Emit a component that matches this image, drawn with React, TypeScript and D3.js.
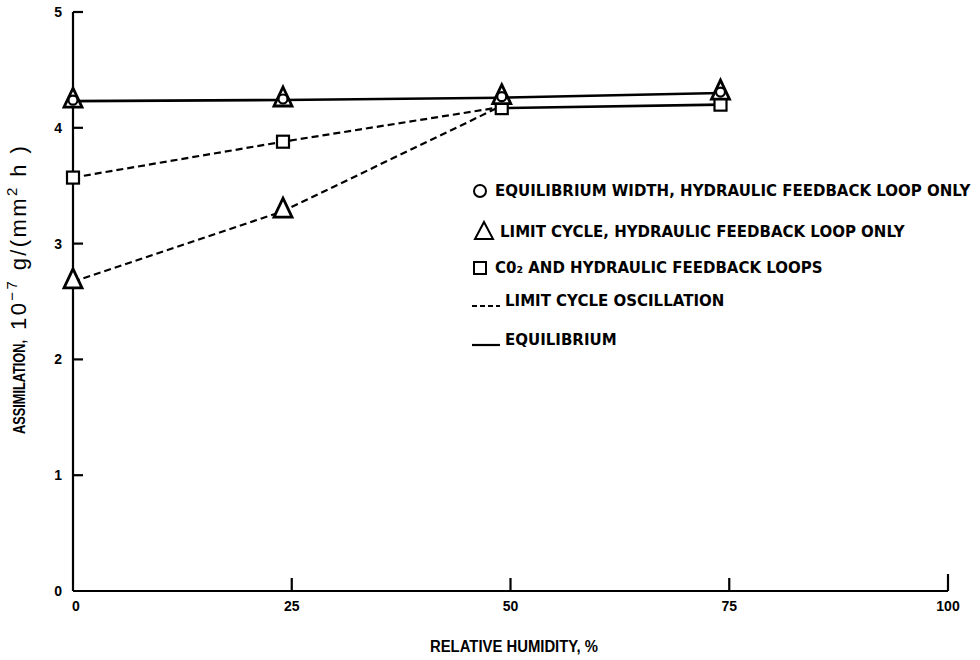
import * as d3 from "d3";

// relative humidity (%) at which the model was run
const humidity = [0, 24, 49, 74];

// equilibrium width, hydraulic loop only (circles, solid)
const eqHydraulic = [4.23, 4.24, 4.26, 4.3];
// limit cycle, hydraulic loop only (triangles) - on the equilibrium line at every humidity
const lcHydraulicTop = [4.23, 4.24, 4.26, 4.3];
// limit cycle oscillation, hydraulic loop only (triangles, dashed)
const lcHydraulicOsc = [2.67, 3.28, 4.19];
// CO2 and hydraulic loops, oscillating (squares, dashed)
const co2Osc = [3.57, 3.88, 4.18];
// CO2 and hydraulic loops, equilibrium (squares, solid)
const co2EqHumidity = [49, 74];
const co2Eq = [4.17, 4.2];

const xTicks = [0, 25, 50, 75, 100];
const yTicks = [0, 1, 2, 3, 4, 5];

const legendItems = [
  { kind: "circle", label: "EQUILIBRIUM WIDTH, HYDRAULIC FEEDBACK LOOP ONLY" },
  { kind: "triangle", label: "LIMIT CYCLE, HYDRAULIC FEEDBACK LOOP ONLY" },
  { kind: "square", label: "C0\u2082 AND HYDRAULIC FEEDBACK LOOPS" },
  { kind: "dashed", label: "LIMIT CYCLE OSCILLATION" },
  { kind: "solid", label: "EQUILIBRIUM" },
];

const W = 980;
const H = 660;
const INK = "#000";
const tickFont = "'Liberation Sans', Arial, sans-serif";
const legendFont = "'DejaVu Sans', 'Liberation Sans', sans-serif";

const triPath = "M0,-13 L9,6 L-9,6 Z";

type Pt = [number, number];

export default function App() {
  const x = d3.scaleLinear().domain([0, 100]).range([73, 948]);
  const y = d3.scaleLinear().domain([0, 5]).range([591, 12]);

  const line = d3
    .line<Pt>()
    .x((d) => x(d[0]))
    .y((d) => y(d[1]));

  const pts = (xs: number[], ys: number[]): Pt[] => ys.map((v, i) => [xs[i], v] as Pt);

  const eqPts = pts(humidity, eqHydraulic);
  const lcTopPts = pts(humidity, lcHydraulicTop);
  const lcOscPts = pts(humidity, lcHydraulicOsc);
  const co2OscPts = pts(humidity, co2Osc);
  const co2EqPts = pts(co2EqHumidity, co2Eq);

  const square = (p: Pt, i: number, key: string) => (
    <rect
      key={key + i}
      x={x(p[0]) - 6}
      y={y(p[1]) - 6}
      width={12}
      height={12}
      fill="#fff"
      stroke={INK}
      strokeWidth={2.2}
    />
  );
  const triangle = (p: Pt, i: number, key: string) => (
    <path
      key={key + i}
      d={triPath}
      transform={`translate(${x(p[0])},${y(p[1])})`}
      fill="#fff"
      stroke={INK}
      strokeWidth={2.8}
      strokeLinejoin="miter"
    />
  );
  const circle = (p: Pt, i: number, key: string) => (
    <circle key={key + i} cx={x(p[0])} cy={y(p[1]) - 1} r={4.5} fill="#fff" stroke={INK} strokeWidth={2.2} />
  );

  const legendX = 480;
  const legendY = [191, 232, 268, 301, 340];

  return (
    <div style={{ position: "absolute", left: 0, top: 0 }}>
      <svg width={W} height={H} style={{ display: "block", background: "#fff" }}>
        {/* axes */}
        <g stroke={INK} strokeWidth={2.2} fill="none">
          <line x1={x(0)} x2={x(100)} y1={y(0)} y2={y(0)} />
          <line x1={x(0)} x2={x(0)} y1={y(0)} y2={y(5)} />
          {yTicks
            .filter((t) => t > 0)
            .map((t) => (
              <line key={"yt" + t} x1={x(0)} x2={x(0) + 10} y1={y(t)} y2={y(t)} />
            ))}
          {xTicks
            .filter((t) => t > 0)
            .map((t) => (
              <line key={"xt" + t} x1={x(t)} x2={x(t)} y1={y(0)} y2={y(0) - (t === 100 ? 17 : 13)} />
            ))}
        </g>

        {/* tick labels */}
        <g fontFamily={tickFont} fontWeight="bold" fontSize={14} fill={INK}>
          {yTicks.map((t) => (
            <text key={"yl" + t} x={x(0) - 11} y={y(t)} dy="0.35em" textAnchor="end">
              {t}
            </text>
          ))}
          {xTicks.map((t) => (
            <text key={"xl" + t} x={x(t) + (t === 0 ? 3 : 0)} y={y(0) + 20} textAnchor="middle">
              {t}
            </text>
          ))}
        </g>

        {/* axis titles */}
        <text
          x={430}
          y={652}
          fontFamily={tickFont}
          fontWeight="bold"
          fontSize={16}
          fill={INK}
          textLength={168}
          lengthAdjust="spacingAndGlyphs"
        >
          RELATIVE HUMIDITY, %
        </text>
        <text
          transform="translate(25,434) rotate(-90)"
          fontFamily={tickFont}
          fontWeight="bold"
          fontSize={16}
          fill={INK}
          textLength={94}
          lengthAdjust="spacingAndGlyphs"
        >
          ASSIMILATION,
        </text>
        <text
          transform="translate(26,330) rotate(-90)"
          fontFamily={tickFont}
          fontSize={22}
          fill={INK}
          letterSpacing={2.4}
        >
          <tspan>10</tspan>
          <tspan dy={-9} fontSize={15}>
            −7
          </tspan>
          <tspan dy={9}> g/(mm</tspan>
          <tspan dy={-9} fontSize={15}>
            2
          </tspan>
          <tspan dy={9}> h )</tspan>
        </text>

        {/* series lines */}
        <g fill="none" stroke={INK}>
          <path d={line(eqPts) ?? ""} strokeWidth={2.6} />
          <path d={line(co2EqPts) ?? ""} strokeWidth={2.6} />
          <path d={line(co2OscPts) ?? ""} strokeWidth={2.2} strokeDasharray="7,4" />
          <path d={line(lcOscPts) ?? ""} strokeWidth={2.2} strokeDasharray="7,4" />
        </g>

        {/* markers */}
        <g>
          {co2OscPts.slice(0, 2).map((p, i) => square(p, i, "cs"))}
          {co2EqPts.map((p, i) => square(p, i, "ce"))}
          {lcOscPts.slice(0, 2).map((p, i) => triangle(p, i, "lo"))}
          {lcTopPts.map((p, i) => triangle(p, i, "lt"))}
          {eqPts.map((p, i) => circle(p, i, "eq"))}
        </g>

        {/* legend */}
        <g fontFamily={legendFont} fontWeight="bold" fontSize={15} fill={INK}>
          {legendItems.map((item, i) => {
            const cy = legendY[i];
            let sym = null;
            let tx = legendX + 15;
            if (item.kind === "circle") {
              sym = <circle cx={legendX} cy={cy} r={6} fill="#fff" stroke={INK} strokeWidth={2} />;
            } else if (item.kind === "triangle") {
              sym = (
                <path
                  d="M0,-10 L9,7 L-9,7 Z"
                  transform={`translate(${legendX + 4},${cy})`}
                  fill="#fff"
                  stroke={INK}
                  strokeWidth={2}
                />
              );
              tx = legendX + 20;
            } else if (item.kind === "square") {
              sym = (
                <rect x={legendX - 6} y={cy - 6} width={12} height={12} fill="#fff" stroke={INK} strokeWidth={2} />
              );
            } else {
              sym = (
                <line
                  x1={legendX - 8}
                  x2={legendX + 20}
                  y1={cy + 5}
                  y2={cy + 5}
                  stroke={INK}
                  strokeWidth={2.2}
                  strokeDasharray={item.kind === "dashed" ? "5,3" : undefined}
                />
              );
              tx = legendX + 25;
            }
            return (
              <g key={item.label}>
                {sym}
                <text x={tx} y={cy} dy="0.36em">
                  {item.label}
                </text>
              </g>
            );
          })}
        </g>
      </svg>
    </div>
  );
}
